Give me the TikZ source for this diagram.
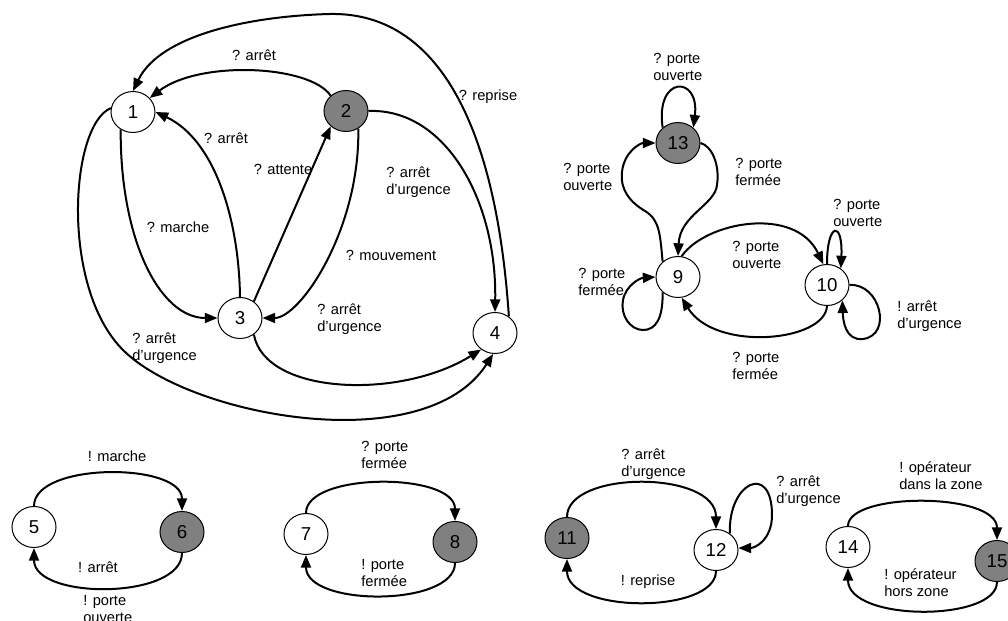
\documentclass[tikz,border=0pt]{standalone}
\usepackage{fontspec}
\setmainfont{Liberation Sans}
\usetikzlibrary{arrows.meta,shapes.geometric}
\definecolor{stgray}{RGB}{128,128,128}
\begin{document}
\begin{tikzpicture}[x=0.75pt,y=-0.75pt,
  st/.style={ellipse, draw, line width=0.75pt, minimum width=33pt, minimum height=30.75pt, inner sep=0pt, font=\fontsize{14}{16}\selectfont, fill=white},
  stg/.style={st, fill=stgray},
  tr/.style={line width=1.5pt, -{Triangle[length=9.5pt,width=7.5pt]}},
  lbl/.style={inner sep=0pt, align=left, font=\fontsize{11}{13}\selectfont},
  lblw/.style={lbl, anchor=west}]
\useasboundingbox (0,0) rectangle (1008,621);
% states
\node[st]  (n1)  at (133,112) {1};
\node[stg] (n2)  at (346,111) {2};
\node[st]  (n3)  at (240,318) {3};
\node[st]  (n4)  at (495,333) {4};
\node[stg] (n13) at (678,143) {13};
\node[st]  (n9)  at (678,277) {9};
\node[st]  (n10) at (827,285) {10};
\node[st]  (n5)  at (34,527) {5};
\node[stg] (n6)  at (182,532) {6};
\node[st]  (n7)  at (306,534) {7};
\node[stg] (n8)  at (455,542) {8};
\node[stg] (n11) at (567,538) {11};
\node[st]  (n12) at (716,550) {12};
\node[st]  (n14) at (848,547) {14};
\node[stg] (n15) at (997,561) {15};
% top-left graph
\draw[tr] (n4.50) .. controls (495,110) and (430,12) .. (330,14) .. controls (250,16) and (160,35) .. (n1.90);
\draw[tr] (n2.135) .. controls (310,65) and (200,60) .. (n1.40);
\draw[tr] (n3.90) .. controls (239,220) and (215,140) .. (n1.0);
\draw[tr] (n1.-125) .. controls (120,240) and (160,318) .. (n3.180);
\draw[tr] (n3.50) -- (n2.-135);
\draw[tr] (n2.-55) .. controls (360,230) and (300,318) .. (n3.0);
\draw[tr] (n2.0) .. controls (445,108) and (497,200) .. (n4.90);
\draw[tr] (n3.-50) .. controls (265,395) and (400,400) .. (n4.-130);
\draw[tr] (n1.170) .. controls (70,125) and (60,287) .. (123,350) .. controls (190,417) and (425,460) .. (n4.-95);
% top-right graph
\draw[tr] (n13.135) .. controls (655,75) and (700,75) .. (n13.45);
\draw[tr] (n9.135) .. controls (660,235) and (660,220) .. (645,211) .. controls (630,202) and (620,190) .. (622,172) .. controls (624,152) and (640,143) .. (n13.180);
\draw[tr] (n13.0) .. controls (712,146) and (720,165) .. (717,185) .. controls (715,205) and (680,215) .. (n9.90);
\draw[tr] (n9.80) .. controls (705,222) and (795,205) .. (n10.100);
\draw[tr] (n10.-90) .. controls (825,342) and (715,352) .. (n9.-80);
\draw[tr] (n9.-135) .. controls (663,320) and (655,330) .. (643,330) .. controls (630,330) and (620,315) .. (623,300) .. controls (626,285) and (640,278) .. (n9.180);
\draw[tr] (n10.90) .. controls (827,222) and (843,220) .. (n10.50);
\draw[tr] (n10.0) .. controls (880,283) and (893,335) .. (863,339) .. controls (845,341) and (843,320) .. (n10.-45);
% bottom graphs
\draw[tr] (n5.90) .. controls (34,462) and (182,462) .. (n6.90);
\draw[tr] (n6.-90) .. controls (182,600) and (34,600) .. (n5.-90);
\draw[tr] (n7.90) .. controls (306,472) and (455,472) .. (n8.90);
\draw[tr] (n8.-90) .. controls (455,607) and (306,607) .. (n7.-90);
\draw[tr] (n11.90) .. controls (567,470) and (716,470) .. (n12.90);
\draw[tr] (n12.50) .. controls (728,482) and (772,462) .. (772,515) .. controls (772,540) and (755,548) .. (n12.5);
\draw[tr] (n12.-90) .. controls (716,614) and (567,614) .. (n11.-90);
\draw[tr] (n14.90) .. controls (848,492) and (997,492) .. (n15.90);
\draw[tr] (n15.-90) .. controls (997,622) and (848,622) .. (n14.-90);
% labels top-left
\node[lbl]  (l1)  at (488,97)  {? reprise};
\node[lbl]  (l2)  at (254,55)  {? arrêt};
\node[lbl]  (l3)  at (226,138) {? arrêt};
\node[lbl]  (l4)  at (283,169) {? attente};
\node[lbl]  (l5)  at (178,227) {? marche};
\node[lbl]  (l6)  at (391,255) {? mouvement};
\node[lblw] (l7)  at (386,182) {? arrêt\\d'urgence};
\node[lblw] (l8)  at (317,319) {? arrêt\\d'urgence};
\node[lblw] (l9)  at (132,348) {? arrêt\\d'urgence};
% labels top-right
\node[lblw] (l10) at (653,67)  {? porte\\ouverte};
\node[lblw] (l11) at (563,177) {? porte\\ouverte};
\node[lblw] (l12) at (735,172) {? porte\\fermée};
\node[lblw] (l13) at (732,255) {? porte\\ouverte};
\node[lblw] (l14) at (732,366) {? porte\\fermée};
\node[lblw] (l15) at (578,282) {? porte\\fermée};
\node[lblw] (l16) at (833,213) {? porte\\ouverte};
\node[lblw] (l17) at (897,316) {! arrêt\\d'urgence};
% labels bottom
\node[lbl]  (l18) at (117,456) {! marche};
\node[lbl]  (l19) at (98,567)  {! arrêt};
\node[lblw] (l20) at (83,609)  {! porte\\ouverte};
\node[lblw] (l21) at (361,455) {? porte\\fermée};
\node[lblw] (l22) at (361,573) {! porte\\fermée};
\node[lblw] (l23) at (621,464) {? arrêt\\d'urgence};
\node[lblw] (l24) at (776,491) {? arrêt\\d'urgence};
\node[lbl]  (l25) at (648,582) {! reprise};
\node[lblw] (l26) at (899,476) {! opérateur\\dans la zone};
\node[lblw] (l27) at (884,583) {! opérateur\\hors zone};
\end{tikzpicture}
\end{document}
